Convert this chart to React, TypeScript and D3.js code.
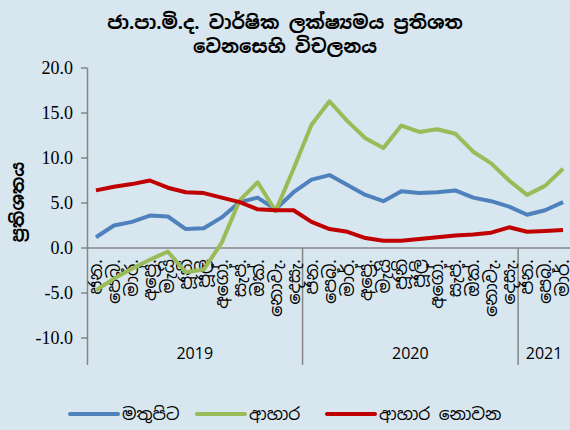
import React from "react";
import * as d3 from "d3";

// month labels (Jan 2019 - Mar 2021)
const monthNames = ["ජන.", "පෙබ.", "මාර්.", "අප්‍රේ.", "මැයි", "ජූනි", "ජූලි", "අගෝ.", "සැප්.", "ඔක්.", "නොවැ.", "දෙසැ."];
const months = [...monthNames, ...monthNames, ...monthNames.slice(0, 3)];
const years = [
  { label: "2019", start: 0, end: 12 },
  { label: "2020", start: 12, end: 24 },
  { label: "2021", start: 24, end: 27 },
];

const headline = [1.2, 2.5, 2.9, 3.6, 3.5, 2.1, 2.2, 3.4, 5.1, 5.6, 4.3, 6.2, 7.6, 8.1, 7.0, 5.9, 5.2, 6.3, 6.1, 6.2, 6.4, 5.6, 5.2, 4.6, 3.7, 4.2, 5.1];
const food = [-4.7, -3.4, -2.3, -1.3, -0.4, -2.7, -2.4, 0.6, 5.3, 7.3, 4.1, 8.8, 13.7, 16.3, 14.1, 12.2, 11.1, 13.6, 12.9, 13.2, 12.7, 10.7, 9.4, 7.5, 5.9, 6.9, 8.8];
const nonFood = [6.4, 6.8, 7.1, 7.5, 6.7, 6.2, 6.1, 5.6, 5.1, 4.3, 4.2, 4.2, 2.9, 2.1, 1.8, 1.1, 0.8, 0.8, 1.0, 1.2, 1.4, 1.5, 1.7, 2.3, 1.8, 1.9, 2.0];

const series = [
  { name: "මතුපිට", values: headline, color: "#4F81BD" },
  { name: "ආහාර", values: food, color: "#9BBB59" },
  { name: "ආහාර නොවන", values: nonFood, color: "#C00000" },
];

const yTicks = [-10, -5, 0, 5, 10, 15, 20];

export default function App() {
  const width = 570;
  const height = 430;

  const x = d3
    .scaleBand<number>()
    .domain(d3.range(months.length))
    .range([87, 572])
    .padding(0);
  const y = d3.scaleLinear().domain([-10, 20]).range([338, 68]);
  const cx = (i: number) => (x(i) as number) + x.bandwidth() / 2;

  const line = d3
    .line<number>()
    .x((d, i) => cx(i))
    .y((d) => y(d));

  const axisColor = "#868686";
  const sinhala = "'Noto Sans Sinhala', 'Noto Sans', sans-serif";
  const legendX = [70, 197, 327];

  return (
    <svg
      width={width}
      height={height}
      style={{ position: "absolute", left: 0, top: 0, background: "#D7E6EF" }}
    >
      <rect width={width} height={height} fill="#D7E6EF" />
      {/* title */}
      <text
        x={285}
        textAnchor="middle"
        fontFamily={sinhala}
        fontWeight="bold"
        fontSize={18.5}
        fill="#000"
      >
        <tspan x={285} y={29}>ජා.පා.මි.ද. වාර්ෂික ලක්ෂ්‍යමය ප්‍රතිශත</tspan>
        <tspan x={285} y={53}>වෙනසෙහි විචලනය</tspan>
      </text>

      {/* y axis label */}
      <text
        transform="translate(24,202) rotate(-90)"
        textAnchor="middle"
        fontFamily={sinhala}
        fontWeight="bold"
        fontSize={17.5}
      >
        ප්‍රතිශතය
      </text>

      {/* y axis */}
      <line x1={87.5} x2={87.5} y1={y(20)} y2={365} stroke={axisColor} strokeWidth={1.5} />
      {yTicks.map((t) => (
        <g key={t}>
          <line x1={81} x2={87.5} y1={y(t)} y2={y(t)} stroke={axisColor} strokeWidth={1.5} />
          <text
            x={73}
            y={y(t)}
            dy="0.35em"
            textAnchor="end"
            fontFamily="'Liberation Serif', 'Times New Roman', serif"
            fontSize={18}
            fill="#000"
          >
            {t.toFixed(1)}
          </text>
        </g>
      ))}

      {/* x axis */}
      <line x1={87} x2={572} y1={y(0)} y2={y(0)} stroke={axisColor} strokeWidth={1.5} />
      {years.map((yr) => (
        <g key={yr.label}>
          {yr.start > 0 && (
            <line
              x1={x(yr.start) as number}
              x2={x(yr.start) as number}
              y1={y(0)}
              y2={365}
              stroke={axisColor}
              strokeWidth={1.5}
            />
          )}
          <text
            x={((x(yr.start) as number) + Math.min(570, (x(yr.end - 1) as number) + x.bandwidth())) / 2}
            y={359}
            textAnchor="middle"
            fontFamily="'Open Sans', 'Noto Sans', sans-serif"
            fontSize={16}
            fill="#000"
          >
            {yr.label}
          </text>
        </g>
      ))}
      {months.map((m, i) => (
        <text
          key={i}
          transform={`translate(${cx(i)},${y(0) + 11}) rotate(-90)`}
          dy="0.35em"
          textAnchor="end"
          fontFamily={sinhala}
          fontSize={17.5}
          fill="#000"
        >
          {m}
        </text>
      ))}

      {/* lines */}
      {series.map((s) => (
        <path
          key={s.name}
          d={line(s.values) ?? ""}
          fill="none"
          stroke={s.color}
          strokeWidth={4}
          strokeLinejoin="round"
        />
      ))}

      {/* legend */}
      {series.map((s, i) => (
        <g key={s.name}>
          <line
            x1={legendX[i]}
            x2={legendX[i] + 48}
            y1={414}
            y2={414}
            stroke={s.color}
            strokeWidth={4}
            strokeLinecap="round"
          />
          <text
            x={legendX[i] + 52}
            y={414}
            dy="0.35em"
            fontFamily={sinhala}
            fontSize={17}
            fill="#000"
          >
            {s.name}
          </text>
        </g>
      ))}
    </svg>
  );
}
